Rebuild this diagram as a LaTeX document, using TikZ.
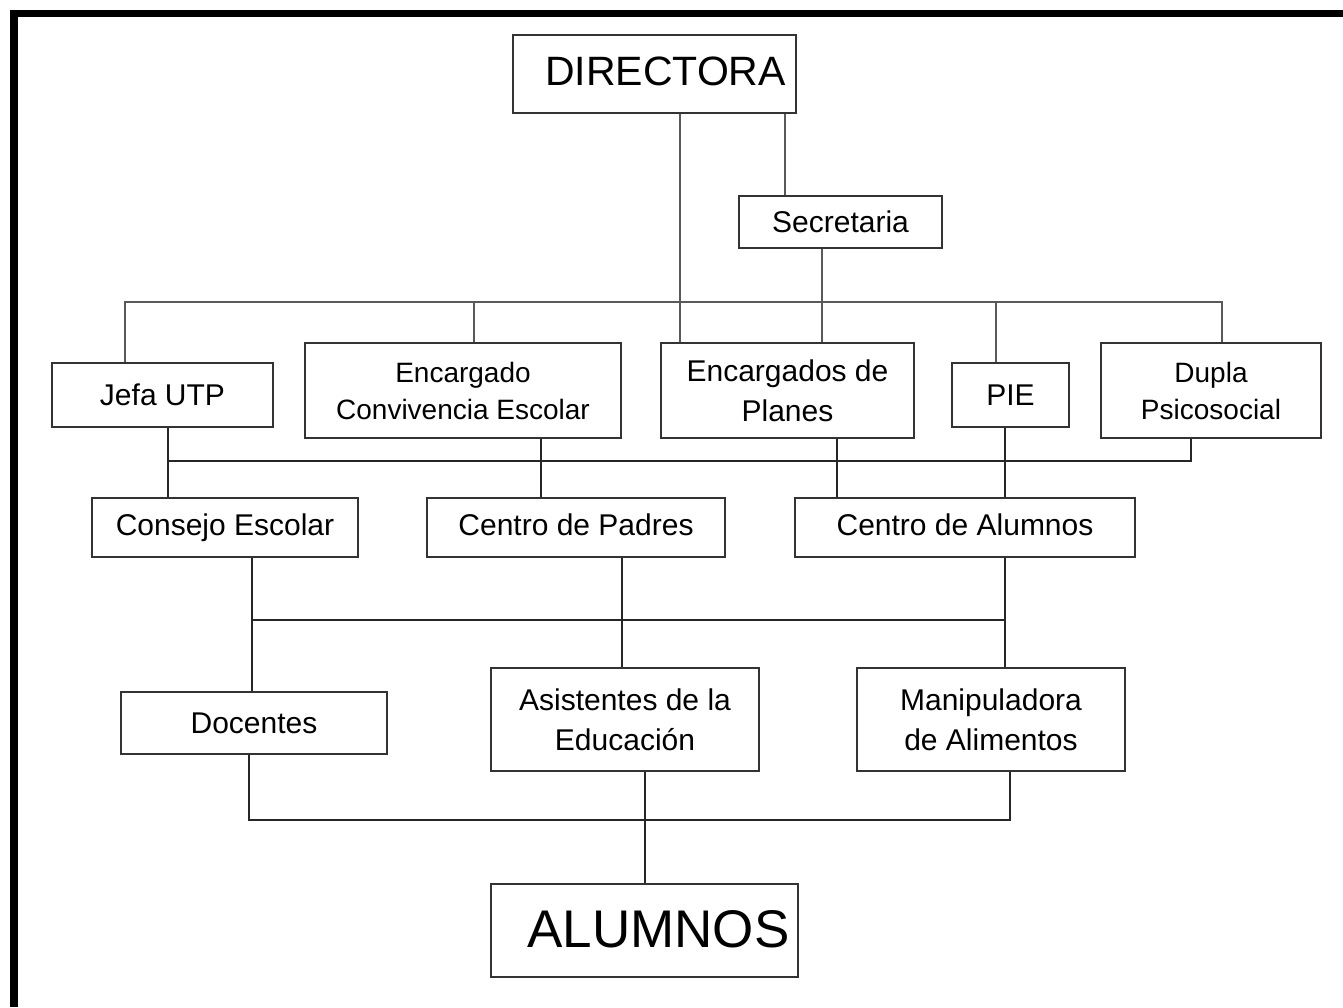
\documentclass[tikz,border=0pt]{standalone}
\usepackage{fontspec}
\setmainfont{Liberation Sans}
\tikzset{
    % boxes of the chart
    orgBox/.style={
        draw=black!80,
        line width=1pt,
        inner sep=0pt,
        align=center,
        font=\fontsize{15}{20}\selectfont
    },
    orgSmall/.style={
        orgBox,
        font=\fontsize{14}{18.5}\selectfont
    },
    sized/.style 2 args={
        minimum width=#1*0.5pt,
        minimum height=#2*0.5pt
    },
    % connectors
    orgLink/.style={
        draw=black!85,
        line width=1pt
    },
    orgLinkTop/.style={
        orgLink,
        draw=black!65
    }
}

\begin{document}
\begin{tikzpicture}[x=0.5pt,y=-0.5pt]

    \useasboundingbox (0,0) rectangle (1343,1007);
    \draw[line width=3.75pt] (14,1007) -- (14,13.5) -- (1343,13.5);

    \node[orgBox, sized={283}{78}, font=\fontsize{20.5}{24}\selectfont] (dir) at (654.5,74) {\hspace*{11pt}\raisebox{2.5pt}{DIRECTORA}};
    \node[orgBox, sized={203}{52}] (sec) at (840.5,222) {Secretaria};

    \node[orgBox, sized={221}{64}] (jefa) at (162.5,395) {Jefa UTP};
    \node[orgSmall, sized={316}{95}] (conv) at (463,390.5) {Encargado\\Convivencia Escolar};
    \node[orgBox, sized={253}{95}] (plan) at (787.5,390.5) {Encargados de\\Planes};
    \node[orgBox, sized={117}{64}] (pie) at (1010.5,395) {PIE};
    \node[orgSmall, sized={220}{95}] (dupla) at (1211,390.5) {Dupla\\Psicosocial};

    \node[orgBox, sized={266}{59}] (consejo) at (225,527.5) {Consejo Escolar};
    \node[orgBox, sized={298}{59}] (padres) at (576,527.5) {Centro de Padres\vphantom{j}};
    \node[orgBox, sized={340}{59}] (calum) at (965,527.5) {Centro de Alumnos\vphantom{j}};

    \node[orgBox, sized={266}{62}] (doc) at (254,723) {Docentes};
    \node[orgBox, sized={268}{103}] (asist) at (625,719.5) {Asistentes de la\\Educación};
    \node[orgBox, sized={268}{103}] (manip) at (991,719.5) {Manipuladora\\de Alimentos};

    \node[orgBox, sized={307}{93}, font=\fontsize{26.5}{30}\selectfont] (alum) at (644.5,930.5) {\hspace*{14pt}\raisebox{2pt}{ALUMNOS}};

    % top level
    \coordinate (tDir) at (680,302);
    \coordinate (tSec) at (785,302);
    \coordinate (tSecPlan) at (822,302);
    \coordinate (tJefa) at (125,302);
    \coordinate (tConv) at (474,302);
    \coordinate (tPie) at (996,302);
    \coordinate (tDupla) at (1222,302);
    \draw[orgLinkTop] (tDir |- dir.south) -- (tDir |- plan.north);
    \draw[orgLinkTop] (tSec |- dir.south) -- (tSec |- sec.north);
    \draw[orgLinkTop] (tSecPlan |- sec.south) -- (tSecPlan |- plan.north);
    \draw[orgLinkTop] (tJefa |- jefa.north) -- (tJefa) -- (tDupla) -- (tDupla |- dupla.north);
    \draw[orgLinkTop] (tConv) -- (tConv |- conv.north);
    \draw[orgLinkTop] (tPie) -- (tPie |- pie.north);

    % second level
    \coordinate (mJefa) at (168,461);
    \coordinate (mConv) at (541,461);
    \coordinate (mPlan) at (837,461);
    \coordinate (mPie) at (1005,461);
    \coordinate (mDupla) at (1191,461);
    \draw[orgLink] (mJefa) -- (mDupla) -- (mDupla |- dupla.south);
    \draw[orgLink] (mJefa |- jefa.south) -- (mJefa |- consejo.north);
    \draw[orgLink] (mConv |- conv.south) -- (mConv |- padres.north);
    \draw[orgLink] (mPlan |- plan.south) -- (mPlan |- calum.north);
    \draw[orgLink] (mPie |- pie.south) -- (mPie |- calum.north);

    % third level
    \coordinate (lCons) at (252,620);
    \coordinate (lPadres) at (622,620);
    \coordinate (lCalum) at (1005,620);
    \draw[orgLink] (lCons) -- (lCalum);
    \draw[orgLink] (lCons |- consejo.south) -- (lCons |- doc.north);
    \draw[orgLink] (lPadres |- padres.south) -- (lPadres |- asist.north);
    \draw[orgLink] (lCalum |- calum.south) -- (lCalum |- manip.north);

    % to the students
    \coordinate (bDoc) at (249,820);
    \coordinate (bAsist) at (645,820);
    \coordinate (bManip) at (1010,820);
    \draw[orgLink] (bDoc |- doc.south) -- (bDoc) -- (bManip) -- (bManip |- manip.south);
    \draw[orgLink] (bAsist |- asist.south) -- (bAsist |- alum.north);

\end{tikzpicture}
\end{document}
